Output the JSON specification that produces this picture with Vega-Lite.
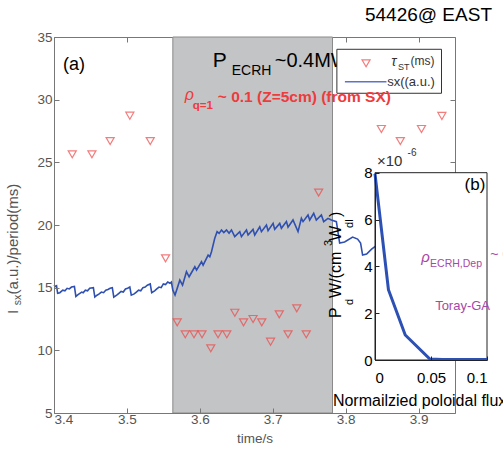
{
  "$schema": "https://vega.github.io/schema/vega-lite/v6.json",
  "width": 401,
  "height": 376,
  "autosize": {"type": "none"},
  "padding": {"left": 54, "top": 37, "right": 48, "bottom": 47},
  "background": "white",
  "title": {"text": "54426@ EAST", "anchor": "end", "frame": "group", "dx": 37, "fontSize": 19, "font": "Liberation Sans", "fontWeight": "normal", "color": "black", "offset": 5},
  "config": {"view": {"stroke": null}, "font": "Liberation Sans"},
  "data": {"values": [{}]},
  "resolve": {"scale": {"x": "independent", "y": "independent"}},
  "layer": [
    {
      "resolve": {"axis": {"x": "independent", "y": "independent"}},
      "layer": [
        {
          "mark": {"type": "rect", "fill": "#c3c4c6", "stroke": "#8a8a8a", "strokeWidth": 1},
          "encoding": {
            "x": {"datum": 3.563, "type": "quantitative", "axis": null},
            "x2": {"datum": 3.782},
            "y": {"datum": 5, "type": "quantitative", "axis": null},
            "y2": {"datum": 35}
          }
        },
        {
          "data": {"values": [
            {"t":3.400,"v":15.2},{"t":3.402,"v":15.1},{"t":3.4035,"v":15.15},{"t":3.405,"v":14.55},{"t":3.408,"v":14.6},{"t":3.412,"v":14.8},{"t":3.415,"v":14.75},{"t":3.418,"v":14.95},{"t":3.421,"v":14.9},{"t":3.424,"v":15.05},{"t":3.428,"v":15.1},
            {"t":3.430,"v":14.3},{"t":3.433,"v":14.45},{"t":3.438,"v":14.65},{"t":3.440,"v":14.6},{"t":3.443,"v":14.8},{"t":3.446,"v":14.75},{"t":3.449,"v":14.95},{"t":3.454,"v":15.0},
            {"t":3.456,"v":14.25},{"t":3.459,"v":14.4},{"t":3.462,"v":14.5},{"t":3.465,"v":14.65},{"t":3.468,"v":14.6},{"t":3.471,"v":14.8},{"t":3.474,"v":14.85},{"t":3.477,"v":14.95},{"t":3.480,"v":15.0},
            {"t":3.482,"v":14.25},{"t":3.486,"v":14.4},{"t":3.489,"v":14.55},{"t":3.492,"v":14.7},{"t":3.495,"v":14.65},{"t":3.498,"v":14.9},{"t":3.501,"v":14.95},{"t":3.504,"v":15.05},
            {"t":3.506,"v":14.4},{"t":3.510,"v":14.5},{"t":3.513,"v":14.65},{"t":3.516,"v":14.8},{"t":3.519,"v":14.75},{"t":3.522,"v":15.0},{"t":3.525,"v":15.05},{"t":3.528,"v":15.2},{"t":3.532,"v":15.3},
            {"t":3.534,"v":14.6},{"t":3.538,"v":14.75},{"t":3.541,"v":14.9},{"t":3.544,"v":15.05},{"t":3.547,"v":15.0},{"t":3.550,"v":15.3},{"t":3.553,"v":15.25},{"t":3.556,"v":15.45},{"t":3.559,"v":15.35},{"t":3.561,"v":15.45},
            {"t":3.563,"v":14.8},{"t":3.566,"v":14.41},
            {"t":3.5726,"v":15.6},{"t":3.5763,"v":15.2},{"t":3.5817,"v":16.27},{"t":3.5853,"v":15.87},{"t":3.5932,"v":16.67},{"t":3.5955,"v":16.4},{"t":3.6023,"v":17.07},{"t":3.6045,"v":16.8},{"t":3.6114,"v":17.6},{"t":3.6137,"v":17.47},{"t":3.616,"v":17.87},
            {"t":3.6205,"v":18.94},{"t":3.6237,"v":19.47},{"t":3.6265,"v":19.33},{"t":3.6297,"v":19.6},{"t":3.6329,"v":19.39},{"t":3.6366,"v":19.6},{"t":3.6401,"v":19.34},{"t":3.6434,"v":19.6},{"t":3.6479,"v":19.07},
            {"t":3.6548,"v":19.47},{"t":3.6571,"v":19.07},{"t":3.664,"v":19.6},{"t":3.6662,"v":19.2},{"t":3.673,"v":19.65},{"t":3.6753,"v":19.2},{"t":3.6822,"v":19.86},{"t":3.6845,"v":19.47},{"t":3.6914,"v":20.0},{"t":3.6936,"v":19.55},
            {"t":3.7005,"v":20.13},{"t":3.7027,"v":19.65},{"t":3.7096,"v":20.13},{"t":3.7119,"v":19.74},{"t":3.7188,"v":20.27},{"t":3.721,"v":19.82},{"t":3.7278,"v":20.4},{"t":3.7347,"v":19.47},{"t":3.7393,"v":20.53},{"t":3.7416,"v":20.27},
            {"t":3.7484,"v":20.8},{"t":3.7507,"v":20.4},{"t":3.7562,"v":20.93},{"t":3.7598,"v":20.4},{"t":3.7667,"v":20.8},{"t":3.7699,"v":20.27},{"t":3.7758,"v":20.53},{"t":3.7804,"v":20.4},{"t":3.7873,"v":20.27},
            {"t":3.7918,"v":18.56},{"t":3.7986,"v":18.64},{"t":3.8096,"v":19.04},{"t":3.8164,"v":18.88},{"t":3.8205,"v":18.56},{"t":3.8233,"v":17.6},{"t":3.8288,"v":17.68},{"t":3.8356,"v":18.08},{"t":3.8411,"v":18.32}
          ]},
          "mark": {"type": "line", "color": "#2f50b0", "strokeWidth": 1.6},
          "encoding": {
            "x": {"field": "t", "type": "quantitative", "scale": {"domain": [3.4, 3.95], "nice": false, "zero": false},
              "axis": {"orient": "bottom", "values": [3.4, 3.5, 3.6, 3.7, 3.8, 3.9], "format": ".1f", "tickSize": -5, "labelPadding": 4, "title": "time/s", "titlePadding": 6, "zindex": 1, "grid": false,
                "domainColor": "#777", "tickColor": "#777", "labelColor": "#555", "labelFont": "Liberation Sans", "labelFontSize": 13.5, "titleFont": "Liberation Sans", "titleFontSize": 13.5, "titleFontWeight": "normal", "titleColor": "#555"}},
            "y": {"field": "v", "type": "quantitative", "scale": {"domain": [5, 35], "nice": false, "zero": false},
              "axis": {"orient": "left", "values": [5, 10, 15, 20, 25, 30, 35], "format": "d", "tickSize": -5, "labelPadding": 7, "title": null, "grid": false, "zindex": 1,
                "domainColor": "#777", "tickColor": "#777", "labelColor": "#555", "labelFont": "Liberation Sans", "labelFontSize": 13.5}}
          }
        },
        {
          "data": {"values": [
            {"t":3.425,"v":25.64},{"t":3.452,"v":25.64},{"t":3.477,"v":26.70},{"t":3.504,"v":28.72},{"t":3.532,"v":26.70},{"t":3.553,"v":17.34},
            {"t":3.569,"v":12.23},{"t":3.580,"v":11.28},{"t":3.592,"v":11.28},{"t":3.603,"v":11.28},{"t":3.615,"v":10.16},{"t":3.625,"v":11.28},{"t":3.637,"v":11.28},{"t":3.648,"v":13.0},
            {"t":3.660,"v":12.23},{"t":3.673,"v":12.5},{"t":3.685,"v":12.23},{"t":3.697,"v":10.69},{"t":3.709,"v":12.87},{"t":3.721,"v":11.28},{"t":3.733,"v":13.35},{"t":3.746,"v":11.28},
            {"t":3.763,"v":22.58},{"t":3.849,"v":27.66},{"t":3.875,"v":26.70},{"t":3.904,"v":27.66},{"t":3.932,"v":28.70}
          ]},
          "mark": {"type": "point", "shape": "triangle-down", "filled": false, "stroke": "#ef4646", "strokeWidth": 1.2, "size": 65},
          "encoding": {
            "x": {"field": "t", "type": "quantitative", "axis": {"orient": "top", "values": [3.4, 3.5, 3.6, 3.7, 3.8, 3.9], "labels": false, "tickSize": -5, "title": null, "grid": false, "domainColor": "#777", "tickColor": "#777"}},
            "y": {"field": "v", "type": "quantitative", "axis": {"orient": "right", "values": [5, 10, 15, 20, 25, 30, 35], "labels": false, "tickSize": -5, "title": null, "grid": false, "domainColor": "#777", "tickColor": "#777"}}
          }
        },
        {"mark": {"type": "text", "text": "(a)", "align": "left", "baseline": "middle", "fontSize": 18, "color": "black"}, "encoding": {"x": {"datum": 3.4123, "axis": null}, "y": {"datum": 32.77, "axis": null}}},
        {"mark": {"type": "text", "text": "P", "align": "left", "baseline": "alphabetic", "fontSize": 21, "color": "black"}, "encoding": {"x": {"datum": 3.6178, "axis": null}, "y": {"datum": 32.61, "axis": null}}},
        {"mark": {"type": "text", "text": "ECRH", "align": "left", "baseline": "alphabetic", "fontSize": 14, "color": "black"}, "encoding": {"x": {"datum": 3.6438, "axis": null}, "y": {"datum": 31.97, "axis": null}}},
        {"mark": {"type": "text", "text": "~0.4MW", "align": "left", "baseline": "alphabetic", "fontSize": 20, "color": "black"}, "encoding": {"x": {"datum": 3.7027, "axis": null}, "y": {"datum": 32.61, "axis": null}}},
        {"mark": {"type": "rect", "fill": "white", "stroke": "#333", "strokeWidth": 1}, "encoding": {"x": {"datum": 3.788, "axis": null}, "x2": {"datum": 3.9315}, "y": {"datum": 30.51, "axis": null}, "y2": {"datum": 34.02}}},
        {"mark": {"type": "point", "shape": "triangle-down", "filled": false, "stroke": "#ef4646", "strokeWidth": 1.2, "size": 65}, "encoding": {"x": {"datum": 3.828, "axis": null}, "y": {"datum": 32.9, "axis": null}}},
        {"mark": {"type": "rule", "color": "#5d73c9", "strokeWidth": 1.5}, "encoding": {"x": {"datum": 3.799, "axis": null}, "x2": {"datum": 3.856}, "y": {"datum": 31.43, "axis": null}}},
        {"mark": {"type": "text", "text": "τ", "align": "left", "baseline": "alphabetic", "fontSize": 14, "fontStyle": "italic", "color": "#333"}, "encoding": {"x": {"datum": 3.8626, "axis": null}, "y": {"datum": 32.69, "axis": null}}},
        {"mark": {"type": "text", "text": "ST", "align": "left", "baseline": "alphabetic", "fontSize": 9, "color": "#333"}, "encoding": {"x": {"datum": 3.8719, "axis": null}, "y": {"datum": 32.37, "axis": null}}},
        {"mark": {"type": "text", "text": "(ms)", "align": "left", "baseline": "alphabetic", "fontSize": 12, "color": "#333"}, "encoding": {"x": {"datum": 3.889, "axis": null}, "y": {"datum": 32.77, "axis": null}}},
        {"mark": {"type": "text", "text": "sx((a.u.)", "align": "left", "baseline": "alphabetic", "fontSize": 13, "color": "#333"}, "encoding": {"x": {"datum": 3.857, "axis": null}, "y": {"datum": 31.1, "axis": null}}},
        {"mark": {"type": "text", "text": "ρ", "align": "left", "baseline": "alphabetic", "fontSize": 16, "fontStyle": "italic", "color": "#ee3b3b"}, "encoding": {"x": {"datum": 3.5795, "axis": null}, "y": {"datum": 29.97, "axis": null}}},
        {"mark": {"type": "text", "text": "q=1", "align": "left", "baseline": "alphabetic", "fontSize": 11.5, "fontWeight": "bold", "color": "#ee3b3b"}, "encoding": {"x": {"datum": 3.5904, "axis": null}, "y": {"datum": 29.25, "axis": null}}},
        {"mark": {"type": "text", "text": "~ 0.1 (Z=5cm) (from SX)", "align": "left", "baseline": "alphabetic", "fontSize": 15.5, "fontWeight": "bold", "color": "#ee3b3b"}, "encoding": {"x": {"datum": 3.6247, "axis": null}, "y": {"datum": 29.84, "axis": null}}},
        {"mark": {"type": "text", "text": "I", "align": "left", "baseline": "alphabetic", "angle": 270, "fontSize": 15, "color": "#555"}, "encoding": {"x": {"datum": 3.35, "axis": null}, "y": {"datum": 12.9, "axis": null}}},
        {"mark": {"type": "text", "text": "sx", "align": "left", "baseline": "alphabetic", "angle": 270, "fontSize": 10.5, "color": "#555"}, "encoding": {"x": {"datum": 3.3548, "axis": null}, "y": {"datum": 13.6, "axis": null}}},
        {"mark": {"type": "text", "text": " (a.u.)/period(ms)", "align": "left", "baseline": "alphabetic", "angle": 270, "fontSize": 15, "color": "#555"}, "encoding": {"x": {"datum": 3.35, "axis": null}, "y": {"datum": 14.45, "axis": null}}}
      ]
    },
    {
      "resolve": {"axis": {"x": "independent", "y": "independent"}},
      "layer": [
        {
          "mark": {"type": "rect", "fill": "white", "stroke": "#222", "strokeWidth": 1},
          "encoding": {
            "x": {"datum": 0, "type": "quantitative", "axis": null},
            "x2": {"datum": 0.1},
            "y": {"datum": 0, "type": "quantitative", "axis": null},
            "y2": {"datum": 8}
          }
        },
        {
          "data": {"values": [
            {"x": 0, "p": 7.95}, {"x": 0.012, "p": 3.0}, {"x": 0.027, "p": 1.07}, {"x": 0.049, "p": 0.04}, {"x": 0.06, "p": 0.02}, {"x": 0.1, "p": 0.02}
          ]},
          "mark": {"type": "line", "color": "#2c50b4", "strokeWidth": 3},
          "encoding": {
            "x": {"field": "x", "type": "quantitative", "scale": {"domain": [0, 0.1], "range": [321, 433], "nice": false, "zero": false},
              "axis": {"orient": "bottom", "offset": -53, "values": [0, 0.05, 0.1], "format": "~g", "tickSize": -4, "labelPadding": 14, "title": null, "grid": false, "zindex": 1,
                "domainColor": "#222", "tickColor": "#222", "labelColor": "black", "labelFont": "Liberation Sans", "labelFontSize": 15}},
            "y": {"field": "p", "type": "quantitative", "scale": {"domain": [0, 8], "range": [323, 135.7], "nice": false, "zero": false},
              "axis": {"orient": "left", "offset": -321, "values": [0, 2, 4, 6, 8], "format": "d", "tickSize": -4, "labelPadding": 7, "title": null, "grid": false, "zindex": 1,
                "domainColor": "#222", "tickColor": "#222", "labelColor": "black", "labelFont": "Liberation Sans", "labelFontSize": 15}}
          }
        },
        {"mark": {"type": "text", "text": "×10", "align": "left", "baseline": "alphabetic", "fontSize": 15, "color": "#333"}, "encoding": {"x": {"datum": 0.0018, "axis": null}, "y": {"datum": 8.29, "axis": null}}},
        {"mark": {"type": "text", "text": "-6", "align": "left", "baseline": "alphabetic", "fontSize": 10, "color": "#333"}, "encoding": {"x": {"datum": 0.0291, "axis": null}, "y": {"datum": 8.7, "axis": null}}},
        {"mark": {"type": "text", "text": "(b)", "align": "right", "baseline": "middle", "fontSize": 17, "color": "black"}, "encoding": {"x": {"datum": 0.0985, "axis": null}, "y": {"datum": 7.48, "axis": null}}},
        {"mark": {"type": "text", "text": "ρ", "align": "left", "baseline": "alphabetic", "fontSize": 15, "fontStyle": "italic", "color": "#a847a8"}, "encoding": {"x": {"datum": 0.0412, "axis": null}, "y": {"datum": 4.19, "axis": null}}},
        {"mark": {"type": "text", "text": "ECRH,Dep", "align": "left", "baseline": "alphabetic", "fontSize": 10.5, "color": "#a847a8"}, "encoding": {"x": {"datum": 0.0492, "axis": null}, "y": {"datum": 3.97, "axis": null}}},
        {"mark": {"type": "text", "text": "~ 0.02", "align": "left", "baseline": "alphabetic", "fontSize": 14, "color": "#a847a8"}, "encoding": {"x": {"datum": 0.103, "axis": null}, "y": {"datum": 4.32, "axis": null}}},
        {"mark": {"type": "text", "text": "Toray-GA", "align": "left", "baseline": "alphabetic", "fontSize": 13, "color": "#a847a8"}, "encoding": {"x": {"datum": 0.0537, "axis": null}, "y": {"datum": 2.14, "axis": null}}},
        {"mark": {"type": "text", "text": "Normailzied poloidal flux", "align": "left", "baseline": "alphabetic", "fontSize": 16, "color": "black"}, "encoding": {"x": {"datum": -0.0376, "axis": null}, "y": {"datum": -1.966, "axis": null}}},
        {"mark": {"type": "text", "text": "P", "align": "left", "baseline": "alphabetic", "angle": 270, "fontSize": 16, "color": "black"}, "encoding": {"x": {"datum": -0.03, "axis": null}, "y": {"datum": 1.795, "axis": null}}},
        {"mark": {"type": "text", "text": "d", "align": "left", "baseline": "alphabetic", "angle": 270, "fontSize": 11, "color": "black"}, "encoding": {"x": {"datum": -0.0194, "axis": null}, "y": {"datum": 2.35, "axis": null}}},
        {"mark": {"type": "text", "text": " W/(cm", "align": "left", "baseline": "alphabetic", "angle": 270, "fontSize": 16, "color": "black"}, "encoding": {"x": {"datum": -0.03, "axis": null}, "y": {"datum": 2.65, "axis": null}}},
        {"mark": {"type": "text", "text": "3", "align": "left", "baseline": "alphabetic", "angle": 270, "fontSize": 11, "color": "black"}, "encoding": {"x": {"datum": -0.0385, "axis": null}, "y": {"datum": 4.87, "axis": null}}},
        {"mark": {"type": "text", "text": "W", "align": "left", "baseline": "alphabetic", "angle": 270, "fontSize": 16, "color": "black"}, "encoding": {"x": {"datum": -0.03, "axis": null}, "y": {"datum": 5.09, "axis": null}}},
        {"mark": {"type": "text", "text": "dl", "align": "left", "baseline": "alphabetic", "angle": 270, "fontSize": 11, "color": "black"}, "encoding": {"x": {"datum": -0.0194, "axis": null}, "y": {"datum": 5.64, "axis": null}}},
        {"mark": {"type": "text", "text": ")", "align": "left", "baseline": "alphabetic", "angle": 270, "fontSize": 16, "color": "black"}, "encoding": {"x": {"datum": -0.03, "axis": null}, "y": {"datum": 6.11, "axis": null}}}
      ]
    }
  ]
}
